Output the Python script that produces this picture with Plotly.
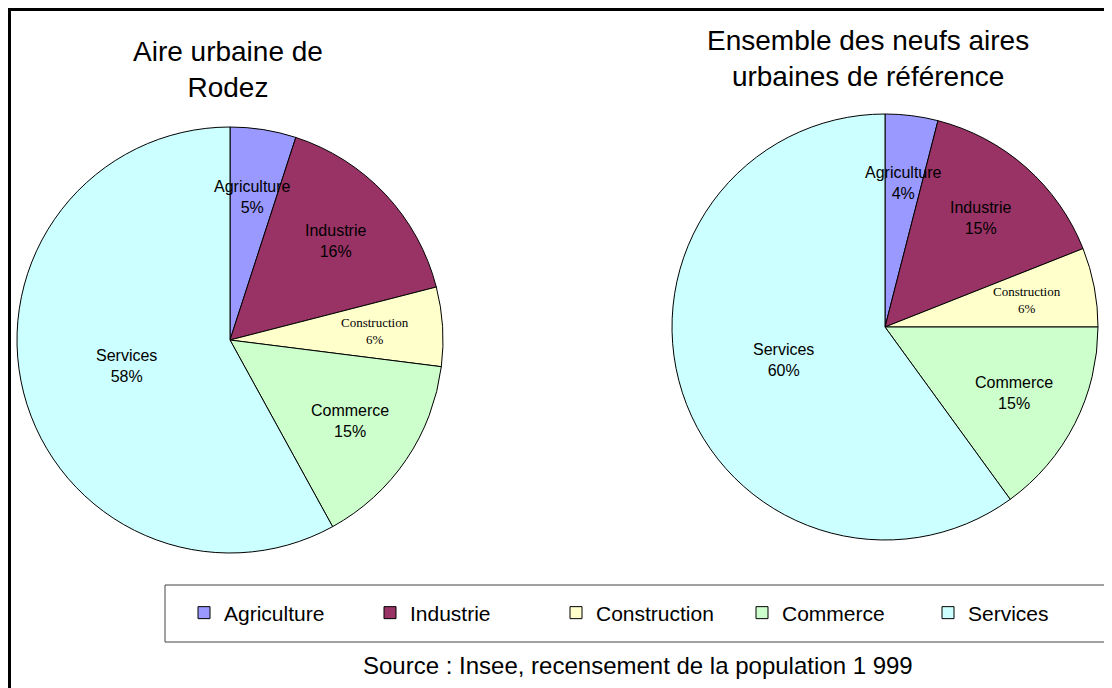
import numpy as np
import plotly.graph_objects as go

W, H = 1112, 688
PAGE_OFFSET = 8  # default body margin of the written html page

# --- data -------------------------------------------------------------
sectors = ["Agriculture", "Industrie", "Construction", "Commerce", "Services"]
rodez = [5, 16, 6, 15, 58]
reference = [4, 15, 6, 15, 60]
titles = ["Aire urbaine de<br>Rodez", "Ensemble des neufs aires<br>urbaines de référence"]
source_text = "Source : Insee, recensement de la population 1 999"

# --- style ------------------------------------------------------------
colors = ["#9999FF", "#993366", "#FFFFCC", "#CCFFCC", "#CCFFFF"]
SANS = "Arial, Liberation Sans, sans-serif"
SERIF = "Times New Roman, Liberation Serif, serif"


def px_x(x):
    # page pixel -> paper fraction
    return (x - PAGE_OFFSET) / W


def px_y(y):
    return 1 - (y - PAGE_OFFSET) / H


# page pixel boxes of the two pies (left, top, right, bottom)
pie_boxes = [(17, 127, 443, 553), (672, 114, 1098, 540)]
title_pos = [(228, 70), (868, 58)]

fig = go.Figure()

for i, (values, box) in enumerate(zip([rodez, reference], pie_boxes)):
    dom = dict(x=[px_x(box[0]), px_x(box[2])], y=[px_y(box[3]), px_y(box[1])])
    fig.add_trace(go.Pie(
        labels=sectors,
        values=values,
        sort=False,
        direction="clockwise",
        rotation=0,
        marker=dict(colors=colors, line=dict(color="black", width=1)),
        textinfo="none",
        hoverinfo="label+percent",
        domain=dom,
        showlegend=(i == 0),
    ))

    # slice labels, placed at the middle angle of each slice
    cx, cy = (box[0] + box[2]) / 2, (box[1] + box[3]) / 2
    rad = (box[2] - box[0]) / 2
    vals = np.array(values, dtype=float)
    mid = np.radians((np.cumsum(vals) - vals / 2) / vals.sum() * 360)
    for s, v, a in zip(sectors, values, mid):
        k = 0.5 if v == vals.max() else 0.68
        small = s == "Construction"
        fig.add_annotation(
            text=f"{s}<br>{v}%",
            x=px_x(cx + k * rad * np.sin(a)), y=px_y(cy - k * rad * np.cos(a)),
            xref="paper", yref="paper", showarrow=False,
            xanchor="center", yanchor="middle",
            font=dict(family=SERIF if small else SANS, size=13 if small else 16, color="black"),
        )

for t, (x, y) in zip(titles, title_pos):
    fig.add_annotation(
        text=t, x=px_x(x), y=px_y(y), xref="paper", yref="paper",
        xanchor="center", yanchor="middle",
        showarrow=False, font=dict(family=SANS, size=28, color="black"),
        align="center",
    )

fig.add_annotation(
    text=source_text, x=px_x(638), y=px_y(665), xref="paper", yref="paper",
    xanchor="center", yanchor="middle",
    showarrow=False, font=dict(family=SANS, size=24, color="black"),
)

# outer frame and legend box
fig.add_shape(type="rect", xref="paper", yref="paper",
              x0=px_x(9.5), y0=px_y(740), x1=px_x(1160), y1=px_y(9.5),
              line=dict(color="black", width=3))
fig.add_shape(type="rect", xref="paper", yref="paper",
              x0=px_x(165), y0=px_y(642), x1=px_x(1150), y1=px_y(585),
              line=dict(color="#444444", width=1))

fig.update_layout(
    width=W, height=H,
    margin=dict(l=0, r=0, t=0, b=0),
    paper_bgcolor="white",
    plot_bgcolor="white",
    font=dict(family=SANS, color="black"),
    legend=dict(
        orientation="h",
        x=px_x(184), y=px_y(613),
        xanchor="left", yanchor="middle",
        entrywidth=141, entrywidthmode="pixels",
        font=dict(family=SANS, size=21, color="black"),
        bgcolor="rgba(0,0,0,0)",
        traceorder="normal",
    ),
)

fig.write_html("out.html")
